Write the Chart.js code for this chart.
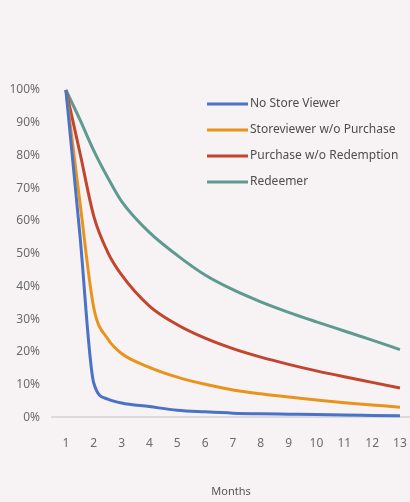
<!DOCTYPE html>
<html>
<head>
  <title>Retention by Segment</title>
  <script src="https://cdn.jsdelivr.net/npm/chart.js"></script>
  <style>
    html, body { margin: 0; padding: 0; background: #f7f3f4; }
    #wrap { width: 410px; height: 502px; }
  </style>
</head>
<body>
  <div id="wrap">
    <canvas id="canvas" width="410" height="502"></canvas>
  </div>
  <script>
    // month positions of the read points (half months only where the curves drop fast)
    var months = [1, 1.5, 2, 2.5, 3, 4, 5, 6, 7, 8, 9, 10, 11, 12, 13];
    var monthTicks = [1, 2, 3, 4, 5, 6, 7, 8, 9, 10, 11, 12, 13];

    var noStoreViewer    = [100, 56, 10.5, 5.6, 4.4, 3.3, 2.2, 1.7, 1.3, 1.1, 1.0, 0.9, 0.7, 0.6, 0.5];
    var storeviewerNoBuy = [100, 66, 33.5, 24, 19.5, 15.3, 12.3, 10.1, 8.4, 7.2, 6.2, 5.3, 4.5, 3.8, 3.1];
    var purchaseNoRedeem = [100, 81, 61.5, 50.5, 43.5, 34, 28.3, 24.2, 21, 18.4, 16.2, 14.2, 12.4, 10.7, 9.0];
    var redeemer         = [100, 91, 81.5, 73.3, 66, 56.5, 49.5, 43.5, 39, 35.3, 32.1, 29.2, 26.4, 23.6, 20.7];

    var seriesNames = ['No Store Viewer', 'Storeviewer w/o Purchase', 'Purchase w/o Redemption', 'Redeemer'];
    var seriesColors = ['#4a72c6', '#e8941c', '#c2452d', '#5f9a90'];
    var seriesValues = [noStoreViewer, storeviewerNoBuy, purchaseNoRedeem, redeemer];

    function toPoints(values) {
      return values.map(function (v, i) { return { x: months[i], y: v }; });
    }

    var datasets = seriesValues.map(function (vals, i) {
      return {
        label: seriesNames[i],
        data: toPoints(vals),
        borderColor: seriesColors[i],
        backgroundColor: seriesColors[i],
        borderWidth: 3,
        pointRadius: 0,
        fill: false,
        cubicInterpolationMode: 'monotone',
        clip: false
      };
    });

    // legend drawn inside the plot, top right
    var insideLegend = {
      id: 'insideLegend',
      afterDraw: function (chart, args, opts) {
        var ctx = chart.ctx;
        ctx.save();
        ctx.font = '12px "Noto Sans"';
        ctx.textBaseline = 'middle';
        ctx.lineCap = 'butt';
        chart.data.datasets.forEach(function (ds, i) {
          var y = opts.y + i * opts.rowHeight;
          ctx.strokeStyle = ds.borderColor;
          ctx.lineWidth = 3;
          ctx.beginPath();
          ctx.moveTo(opts.x, y);
          ctx.lineTo(opts.x + opts.lineLength, y);
          ctx.stroke();
          ctx.fillStyle = '#4d4d4d';
          ctx.fillText(ds.label, opts.x + opts.lineLength + 2, y);
        });
        ctx.restore();
      }
    };

    var ctx = document.getElementById('canvas').getContext('2d');
    var chart = new Chart(ctx, {
      type: 'line',
      data: { datasets: datasets },
      plugins: [insideLegend],
      options: {
        responsive: false,
        animation: false,
        layout: { padding: { top: 90, left: 9, right: 0, bottom: 0 } },
        plugins: {
          legend: { display: false },
          tooltip: { enabled: false },
          insideLegend: { x: 207, y: 104, rowHeight: 26, lineLength: 41 }
        },
        scales: {
          x: {
            type: 'linear',
            min: 0.5,
            max: 13.36,
            afterBuildTicks: function (axis) {
              axis.ticks = monthTicks.map(function (m) { return { value: m }; });
            },
            // invisible tick marks give the gap between the axis and its labels
            grid: { display: true, drawOnChartArea: false, drawTicks: true, tickLength: 19, color: 'rgba(0,0,0,0)' },
            border: { display: true, color: '#dcdada', width: 2 },
            ticks: {
              padding: 0,
              color: '#6b6b6b',
              font: { family: 'Noto Sans', size: 12 },
              maxRotation: 0,
              autoSkip: false
            },
            title: {
              display: true,
              text: 'Months',
              color: '#555',
              font: { family: 'Noto Sans', size: 11 },
              padding: { top: 34, bottom: 4 }
            }
          },
          y: {
            min: 0,
            max: 100,
            afterFit: function (axis) { axis.width = 43; },
            grid: { display: true, drawOnChartArea: false, drawTicks: true, tickLength: 12, color: 'rgba(0,0,0,0)' },
            border: { display: false },
            ticks: {
              stepSize: 10,
              padding: 0,
              color: '#6b6b6b',
              font: { family: 'Noto Sans', size: 12 },
              callback: function (v) { return v + '%'; }
            }
          }
        }
      }
    });
  </script>
</body>
</html>
